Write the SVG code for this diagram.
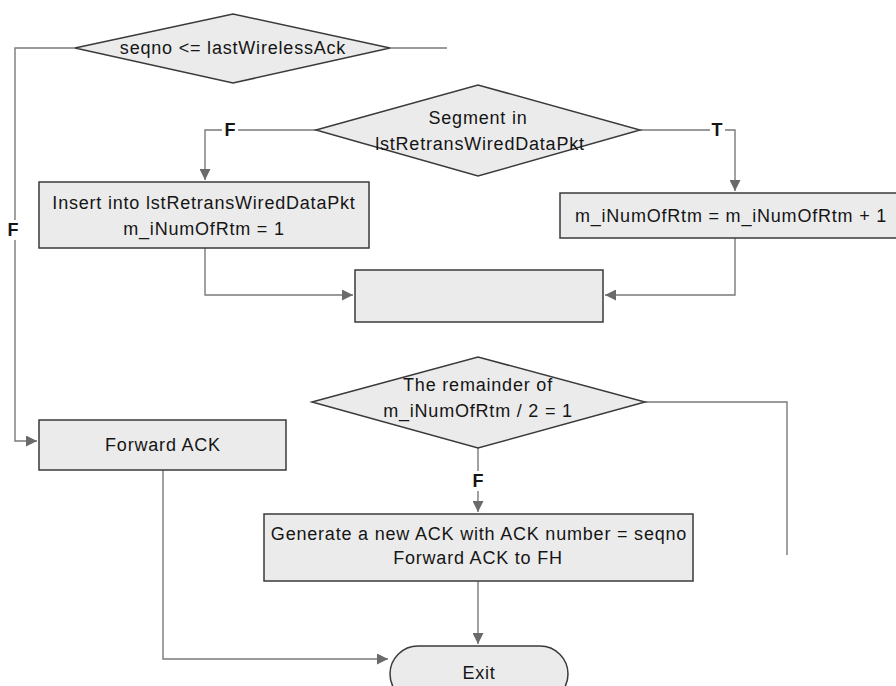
<svg xmlns="http://www.w3.org/2000/svg" width="896" height="686" viewBox="0 0 896 686">
  <style>
    .node { fill: #ebebeb; stroke: #3a3a3a; stroke-width: 1.5; }
    .txt { font-family: "Liberation Sans", Arial, sans-serif; font-size: 18px; letter-spacing: 0.8px; fill: #151515; text-anchor: middle; }
    .conn { fill: none; stroke: #7a7a7a; stroke-width: 1.4; }
    .lbl { font-family: "Liberation Sans", Arial, sans-serif; font-size: 18px; font-weight: bold; fill: #151515; text-anchor: middle; }
    .lblbg { fill: #ffffff; }
  </style>
  <defs>
    <marker id="arrow" viewBox="0 0 10 10" refX="10" refY="5" markerWidth="11" markerHeight="11" markerUnits="userSpaceOnUse" orient="auto">
      <path d="M0,0 L10,5 L0,10 Z" fill="#6a6a6a"/>
    </marker>
    <clipPath id="clipGen">
      <rect x="264" y="514" width="429" height="67"/>
    </clipPath>
  </defs>

  <rect width="896" height="686" fill="#ffffff"/>

  <!-- connectors -->
  <g id="connectors">
    <polyline class="conn" points="75,48 15,48 15,441 37,441" marker-end="url(#arrow)"/>
    <polyline class="conn" points="390,48 447,48"/>
    <polyline class="conn" points="316,130 205,130 205,180" marker-end="url(#arrow)"/>
    <polyline class="conn" points="640,130 735,130 735,191" marker-end="url(#arrow)"/>
    <polyline class="conn" points="205,248 205,295 353,295" marker-end="url(#arrow)"/>
    <polyline class="conn" points="735,238 735,295 605,295" marker-end="url(#arrow)"/>
    <polyline class="conn" points="645,402 787,402 787,555"/>
    <polyline class="conn" points="478,448 478,512" marker-end="url(#arrow)"/>
    <polyline class="conn" points="163,470 163,659 388,659" marker-end="url(#arrow)"/>
    <polyline class="conn" points="478,581 478,644" marker-end="url(#arrow)"/>
    <!-- branch labels -->
    <rect class="lblbg" x="6" y="220" width="15" height="20"/>
    <text class="lbl" x="13" y="236">F</text>
    <rect class="lblbg" x="222" y="120" width="16" height="20"/>
    <text class="lbl" x="230" y="136">F</text>
    <rect class="lblbg" x="710" y="120" width="15" height="20"/>
    <text class="lbl" x="717" y="136">T</text>
    <rect class="lblbg" x="470" y="471" width="16" height="20"/>
    <text class="lbl" x="478" y="487">F</text>
  </g>

  <g id="decision-seqno">
    <polygon class="node" points="75,48 233,14 390,48 233,83"/>
    <text class="txt" x="233" y="54">seqno &lt;= lastWirelessAck</text>
  </g>

  <g id="decision-segment">
    <polygon class="node" points="316,130 478,85 640,130 478,176"/>
    <text class="txt" x="478" y="124">Segment in</text>
    <text class="txt" x="480" y="150">lstRetransWiredDataPkt</text>
  </g>

  <g id="insert-box">
    <rect class="node" x="39" y="182" width="330" height="66"/>
    <text class="txt" x="204" y="209">Insert into lstRetransWiredDataPkt</text>
    <text class="txt" x="204" y="235">m_iNumOfRtm = 1</text>
  </g>

  <g id="increment-box">
    <rect class="node" x="560" y="193" width="360" height="45"/>
    <text class="txt" x="731" y="222">m_iNumOfRtm = m_iNumOfRtm + 1</text>
  </g>

  <g id="merge-box">
    <rect class="node" x="355" y="270" width="248" height="52"/>
  </g>

  <g id="decision-remainder">
    <polygon class="node" points="312,402 478,357 645,402 478,448"/>
    <text class="txt" x="478" y="391">The remainder of</text>
    <text class="txt" x="478" y="417">m_iNumOfRtm / 2 = 1</text>
  </g>

  <g id="forward-ack">
    <rect class="node" x="39" y="420" width="247" height="50"/>
    <text class="txt" x="163" y="451">Forward ACK</text>
  </g>

  <g id="generate-ack">
    <rect class="node" x="264" y="514" width="429" height="67"/>
    <text class="txt" x="479" y="540" clip-path="url(#clipGen)">Generate a new ACK with ACK number = seqno</text>
    <text class="txt" x="478" y="564">Forward ACK to FH</text>
  </g>

  <g id="exit">
    <rect class="node" x="390" y="646" width="178" height="56" rx="28" ry="28"/>
    <text class="txt" x="479" y="679">Exit</text>
  </g>
</svg>
